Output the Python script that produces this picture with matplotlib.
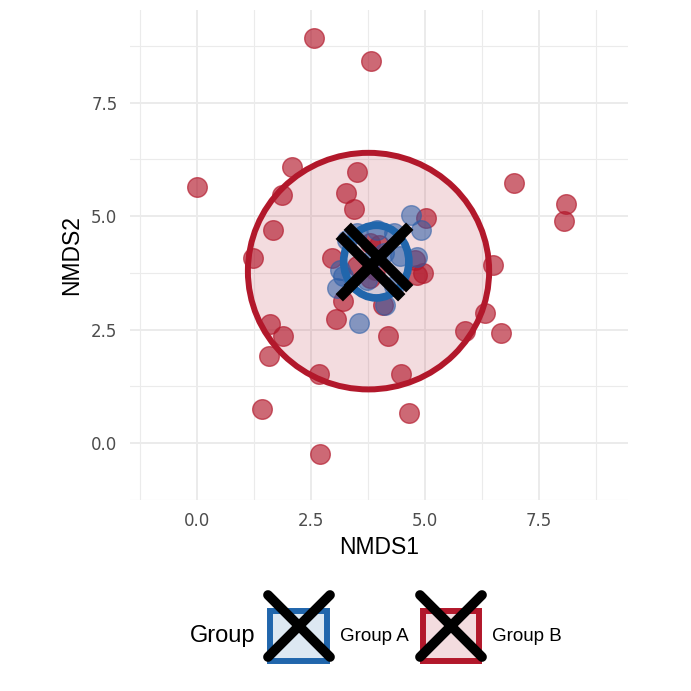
import matplotlib
matplotlib.use("Agg")
import matplotlib.pyplot as plt
from matplotlib.patches import Ellipse, Patch
from matplotlib.lines import Line2D
from matplotlib.markers import MarkerStyle
from matplotlib.legend_handler import HandlerTuple

# group B (red) points
b_x = [2.57, 3.81, 0.00, 2.09, 3.50, 1.86, 3.27, 3.44, 1.67, 1.23, 2.95, 3.19, 3.05,
       1.59, 1.88, 1.57, 2.67, 1.42, 2.69, 6.94, 8.09, 8.05, 5.01, 4.77, 4.96, 4.83,
       6.48, 6.32, 5.88, 6.67, 4.19, 4.47, 4.64, 4.07, 3.79, 3.90, 3.98, 3.79, 3.50]
b_y = [8.92, 8.42, 5.65, 6.09, 5.98, 5.46, 5.52, 5.16, 4.70, 4.08, 4.08, 3.13, 2.74,
       2.62, 2.36, 1.92, 1.52, 0.75, -0.23, 5.73, 5.27, 4.89, 4.97, 4.03, 3.75, 3.71,
       3.93, 2.86, 2.48, 2.43, 2.37, 1.52, 0.67, 3.04, 4.41, 3.82, 4.37, 3.64, 3.90]

# group A (blue) points
a_x = [4.69, 4.91, 4.83, 3.56, 3.28, 3.14, 3.06, 3.21, 4.12, 3.94, 4.31, 4.45,
       3.50, 3.72, 4.31, 4.10, 3.85]
a_y = [5.03, 4.69, 4.10, 2.65, 4.48, 3.82, 3.42, 3.68, 3.05, 4.70, 4.63, 4.12,
       4.63, 3.60, 3.46, 4.20, 4.05]

# centroids and ellipses
groups = ["Group A", "Group B"]
colors = ["#2166AC", "#B2182B"]
cent_x = [3.97, 3.79]
cent_y = [4.09, 3.91]
ell_x = [3.93, 3.76]
ell_y = [4.00, 3.79]
ell_w = [1.43, 5.29]
ell_h = [1.60, 5.21]
ell_lw = [5.5, 4.3]

fig = plt.figure(figsize=(6.91, 6.91), dpi=100)
ax = fig.add_axes([130 / 691, 1 - 500 / 691, 498 / 691, 490 / 691])
ax.set_xlim(-1.47, 9.45)
ax.set_ylim(-1.23, 9.54)

for s in ax.spines.values():
    s.set_visible(False)
ax.set_xticks([0, 2.5, 5, 7.5])
ax.set_yticks([0, 2.5, 5, 7.5])
ax.set_xticks([-1.25, 1.25, 3.75, 6.25, 8.75], minor=True)
ax.set_yticks([-1.25, 1.25, 3.75, 6.25, 8.75], minor=True)
ax.set_xticklabels(["0.0", "2.5", "5.0", "7.5"])
ax.set_yticklabels(["0.0", "2.5", "5.0", "7.5"])
ax.grid(which="major", color="#EBEBEB", linewidth=1.4)
ax.grid(which="minor", color="#EBEBEB", linewidth=0.8)
ax.tick_params(which="both", length=0, labelsize=12, labelcolor="#4D4D4D", pad=9)
ax.set_axisbelow(True)

# ellipses (fill then outline)
for i in [1, 0]:
    ax.add_patch(Ellipse((ell_x[i], ell_y[i]), ell_w[i], ell_h[i],
                         facecolor=colors[i], alpha=0.15, edgecolor="none", zorder=1))

ax.scatter(b_x, b_y, s=200, color=colors[1], alpha=0.65, edgecolor=colors[1],
           linewidth=1, zorder=2)
ax.scatter(a_x, a_y, s=200, color="#2A5CA6", alpha=0.55, edgecolor="#2A5CA6",
           linewidth=1, zorder=3)

for i in [1, 0]:
    ax.add_patch(Ellipse((ell_x[i], ell_y[i]), ell_w[i], ell_h[i],
                         facecolor="none", edgecolor=colors[i], linewidth=ell_lw[i],
                         zorder=4))

xm = MarkerStyle("x", capstyle="round")
ax.scatter(cent_x, cent_y, marker=xm, s=45 ** 2, color="black", linewidth=7.5, zorder=5)

ax.set_xlabel("NMDS1", fontsize=16.5, family="Liberation Sans", labelpad=4)
ax.set_ylabel("NMDS2", fontsize=16.5, family="Liberation Sans", labelpad=6)

# legend
handles = []
for i in range(2):
    box = Patch(facecolor=(*matplotlib.colors.to_rgb(colors[i]), 0.15),
                edgecolor=colors[i], linewidth=4.3)
    cross = Line2D([], [], linestyle="none", marker=xm, markersize=44,
                   markeredgewidth=7, color="black")
    handles.append((box, cross))

fig.legend(handles, groups, handler_map={tuple: HandlerTuple(ndivide=1)},
           loc="center left", bbox_to_anchor=(261 / 691, 1 - 636 / 691),
           ncol=2, frameon=False, borderpad=0, handlelength=3.0, handleheight=3.7,
           handletextpad=0.7, columnspacing=0.75,
           prop={"family": "Liberation Sans", "size": 13.5})
fig.text(190 / 691, 1 - 636 / 691, "Group", fontsize=17, family="Liberation Sans",
         va="center", ha="left")

fig.savefig("out.png", dpi=100)
